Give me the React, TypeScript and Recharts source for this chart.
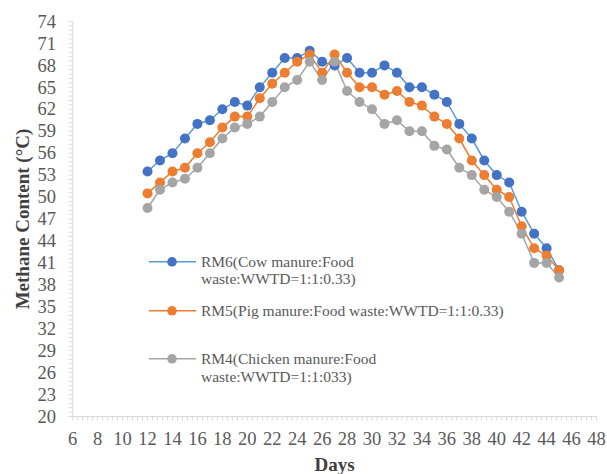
import React from 'react';
import { LineChart, Line, XAxis, YAxis, Legend, Label } from 'recharts';

const days = [12, 13, 14, 15, 16, 17, 18, 19, 20, 21, 22, 23, 24, 25, 26, 27, 28, 29, 30, 31, 32, 33, 34, 35, 36, 37, 38, 39, 40, 41, 42, 43, 44, 45];
const rm6 = [53.5, 55, 56, 58, 60, 60.5, 62, 63, 62.5, 65, 67, 69, 69, 70, 68.5, 68, 69, 67, 67, 68, 67, 65, 65, 64, 63, 60, 58, 55, 53, 52, 48, 45, 43, 40];
const rm5 = [50.5, 52, 53.5, 54, 56, 57.5, 59.5, 61, 61, 63.5, 65.5, 67, 68.5, 69.5, 67, 69.5, 67, 65, 65, 64, 64.5, 63, 62.5, 61, 60, 58, 55, 53, 51, 50, 46, 43, 42, 40];
const rm4 = [48.5, 51, 52, 52.5, 54, 56, 58, 59.5, 60, 61, 63, 65, 66, 68.5, 66, 68.5, 64.5, 63, 62, 60, 60.5, 59, 59, 57, 56.5, 54, 53, 51, 50, 48, 45, 41, 41, 39];

const xLabels = [6, 8, 10, 12, 14, 16, 18, 20, 22, 24, 26, 28, 30, 32, 34, 36, 38, 40, 42, 44, 46, 48];
const yLabels = [20, 23, 26, 29, 32, 35, 38, 41, 44, 47, 50, 53, 56, 59, 62, 65, 68, 71, 74];

const series = [
  { key: 'rm6', name: 'RM6(Cow manure:Food\nwaste:WWTD=1:1:0.33)', line: '#5B9BD5', dot: '#4472C4' },
  { key: 'rm5', name: 'RM5(Pig manure:Food waste:WWTD=1:1:0.33)', line: '#ED7D31', dot: '#ED7D31' },
  { key: 'rm4', name: 'RM4(Chicken manure:Food\nwaste:WWTD=1:1:033)', line: '#A5A5A5', dot: '#A5A5A5' },
];

const data = days.map((d, i) => ({ day: d, rm6: rm6[i], rm5: rm5[i], rm4: rm4[i] }));

// major labels plus Excel-like minor tick marks in between
const withMinor = (labels: number[], parts: number) => {
  const out: number[] = [];
  labels.forEach((v, i) => {
    out.push(v);
    const next = labels[i + 1];
    if (next === undefined) return;
    for (let k = 1; k < parts; k++) out.push(v + ((next - v) * k) / parts);
  });
  return out;
};
const xTicks = withMinor(xLabels, 5);
const yTicks = withMinor(yLabels, 5);

const FONT = '"Liberation Serif", "Times New Roman", serif';
const AXIS = '#D9D9D9';
const TEXT = '#595959';

const XTick = (props: any) => {
  const { x, y, payload } = props;
  if (!xLabels.includes(payload.value)) return <g />;
  return (
    <text x={x} y={y} dy={22} textAnchor="middle" fill={TEXT} fontSize={18.5} fontFamily={FONT}>
      {payload.value}
    </text>
  );
};

const YTick = (props: any) => {
  const { x, y, payload } = props;
  if (!yLabels.includes(payload.value)) return <g />;
  return (
    <text x={x} y={y} dy={6.2} textAnchor="end" fill={TEXT} fontSize={18.5} fontFamily={FONT}>
      {payload.value}
    </text>
  );
};

const renderLegend = () => (
  <div style={{ fontFamily: FONT, fontSize: 15.5, lineHeight: '17.6px', color: TEXT }}>
    {series.map((s) => (
      <div key={s.key} style={{ display: 'flex', alignItems: 'flex-start', height: 48.7 }}>
        <svg width={47} height={17.6} style={{ flex: 'none' }}>
          <line x1={0} y1={8.8} x2={47} y2={8.8} stroke={s.line} strokeWidth={1.5} />
          <circle cx={23} cy={8.8} r={4.8} fill={s.dot} />
        </svg>
        <span style={{ marginLeft: 5, whiteSpace: 'pre' }}>{s.name}</span>
      </div>
    ))}
  </div>
);

export default function App() {
  return (
    <div style={{ position: 'absolute', left: 0, top: 0, width: 607, height: 474, background: '#fff' }}>
      <LineChart
        width={607}
        height={474}
        data={data}
        margin={{ top: 21.5, right: 10.5, left: 0, bottom: 0 }}
      >
        <XAxis
          dataKey="day"
          type="number"
          domain={[6, 48]}
          ticks={xTicks}
          interval={0}
          height={57.5}
          stroke={AXIS}
          tickSize={4}
          tickMargin={2}
          tick={<XTick />}
        >
          <Label
            value="Days"
            position="insideBottom"
            offset={3}
            fill="#404040"
            fontSize={19}
            fontWeight="bold"
            fontFamily={FONT}
          />
        </XAxis>
        <YAxis
          type="number"
          domain={[20, 74]}
          ticks={yTicks}
          interval={0}
          width={72.7}
          stroke={AXIS}
          tickSize={4}
          tickMargin={12.7}
          tick={<YTick />}
        >
          <Label
            value="Methane Content (°C)"
            position="insideLeft"
            angle={-90}
            offset={22.7}
            textAnchor="middle"
            fill="#404040"
            fontSize={19}
            fontWeight="bold"
            fontFamily={FONT}
          />
        </YAxis>
        <Legend
          layout="vertical"
          align="center"
          verticalAlign="middle"
          content={renderLegend}
          wrapperStyle={{ left: 149, top: 252.9, width: 420, height: 150 }}
        />
        {series.map((s) => (
          <Line
            key={s.key}
            dataKey={s.key}
            name={s.name}
            stroke={s.line}
            strokeWidth={1.5}
            dot={{ r: 5, fill: s.dot, stroke: s.dot, strokeWidth: 0 }}
            activeDot={false}
            isAnimationActive={false}
          />
        ))}
      </LineChart>
    </div>
  );
}
